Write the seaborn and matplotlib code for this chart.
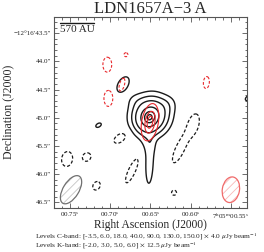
import numpy as np
import matplotlib
matplotlib.use("Agg")
import matplotlib.pyplot as plt
from matplotlib.patches import Ellipse
import seaborn as sns

# contour levels (multiples of rms) from the caption
levels_c = [-3.5, 6.0, 18.0, 40.0, 90.0, 130.0, 150.0]
rms_c = 4.0
levels_k = [-2.0, 3.0, 5.0, 6.0]
rms_k = 12.5

# C-band components: RA (s after 7h05m00s), Dec (" after -12d16'), peak (rms units),
# sigma major / minor (arcsec), angle of major axis (deg, on screen)
c_ra = [0.6524, 0.6500, 0.6512, 0.6524, 0.6305, 0.6680,
        0.6841, 0.7146, 0.5265, 0.6878, 0.7537, 0.7293,
        0.6732, 0.5963, 0.6134, 0.7171, 0.6207]
c_dec = [45.026, 44.960, 45.800, 45.440, 44.780, 44.700,
         44.410, 45.132, 44.639, 45.361, 45.731, 45.696,
         45.942, 45.114, 45.554, 46.206, 46.329]
c_amp = [50, 110, 13, 9, 8, 5,
         9.9, 9.9, 9.9, -5.8, -5.8, -5.8,
         -5.8, -5.8, -5.8, -5.8, -5.8]
c_smaj = [0.130, 0.182, 0.290, 0.140, 0.120, 0.110,
          0.150, 0.053, 0.088, 0.123, 0.132, 0.079,
          0.229, 0.176, 0.264, 0.079, 0.044]
c_smin = [0.115, 0.170, 0.052, 0.090, 0.100, 0.090,
          0.088, 0.032, 0.044, 0.070, 0.097, 0.070,
          0.062, 0.088, 0.079, 0.062, 0.044]
c_pa = [65, 60, 88, 95, 30, 0,
        58, 30, 30, 35, 80, 45,
        65, 75, 65, 60, 0]

# K-band components
k_ra = [0.6506, 0.7037, 0.6805, 0.7024, 0.5805, 0.6854]
k_dec = [45.079, 44.058, 43.882, 44.657, 44.375, 44.410]
k_amp = [6.5, -3.3, -3.3, -3.3, -3.3, -3.3]
k_smaj = [0.269, 0.132, 0.035, 0.141, 0.106, 0.114]
k_smin = [0.120, 0.079, 0.035, 0.079, 0.053, 0.044]
k_pa = [80, 90, 0, 90, 85, 75]

# synthesized beams (C-band, K-band)
beam_ra = [0.7488, 0.5500]
beam_dec = [46.276, 46.276]
beam_maj = [0.563, 0.458]
beam_min = [0.282, 0.308]
beam_pa = [58, 80]

x_ticks = [0.75, 0.70, 0.65, 0.60, 0.55]
y_ticks = [43.5, 44.0, 44.5, 45.0, 45.5, 46.0, 46.5]

SCALE = 14.44  # arcsec per RA second on the plot


def model(X, Y, ra, dec, amp, smaj, smin, pa):
    img = np.zeros_like(X)
    for r, d, a, s1, s2, p in zip(ra, dec, amp, smaj, smin, pa):
        t = np.deg2rad(p)
        dx = X - r * SCALE
        dy = Y - d
        u = dx * np.cos(t) + dy * np.sin(t)
        v = -dx * np.sin(t) + dy * np.cos(t)
        img += a * np.exp(-0.5 * ((u / s1) ** 2 + (v / s2) ** 2))
    return img


sns.set_style("ticks")
plt.rcParams["font.family"] = ["Liberation Serif", "DejaVu Serif"]
plt.rcParams["mathtext.fontset"] = "stix"
plt.rcParams["hatch.linewidth"] = 0.6

xs = np.linspace(0.52, 0.78, 500) * SCALE
ys = np.linspace(43.1, 46.7, 500)
X, Y = np.meshgrid(xs, ys)
img_c = model(X, Y, c_ra, c_dec, c_amp, c_smaj, c_smin, c_pa)
img_k = model(X, Y, k_ra, k_dec, k_amp, k_smaj, k_smin, k_pa)

fig = plt.figure(figsize=(2.64, 2.52), dpi=100)
ax = fig.add_axes([0.2045, 0.1746, 0.731, 0.758])

black = "#1a1a1a"
red = "#e8282c"
dash = [(0, (2.5, 1.6))]
neg_c = [l for l in levels_c if l < 0]
pos_c = [l for l in levels_c if l > 0]
neg_k = [l for l in levels_k if l < 0]
pos_k = [l for l in levels_k if l > 0]
ax.contour(X, Y, img_c, levels=neg_c, colors=black, linewidths=0.9, linestyles=dash)
ax.contour(X, Y, img_c, levels=pos_c, colors=black, linewidths=1.0, linestyles="solid")
ax.contour(X, Y, img_k, levels=neg_k, colors=red, linewidths=0.8, linestyles=dash)
ax.contour(X, Y, img_k, levels=pos_k, colors=red, linewidths=0.8, linestyles="solid")

# beams
beam_cols = [("#707070", "#c4c4c4"), ("#f06a6a", "#f8b8b8")]
for r, d, w, h, p, (ec, hc) in zip(beam_ra, beam_dec, beam_maj, beam_min, beam_pa, beam_cols):
    ax.add_patch(Ellipse((r * SCALE, d), w, h, angle=p, facecolor="none",
                         edgecolor=hc, hatch="////", lw=0))
    ax.add_patch(Ellipse((r * SCALE, d), w, h, angle=p, facecolor="none",
                         edgecolor=ec, lw=0.9))

ax.set_xlim(0.7695 * SCALE, 0.5341 * SCALE)
ax.set_ylim(46.576, 43.213)

xlabels = [f"00.{int(round(v * 100)):02d}$^{{\\rm s}}$" for v in x_ticks]
xlabels[-1] = "7$^{\\rm h}$05$^{\\rm m}$" + xlabels[-1]
ax.set_xticks([v * SCALE for v in x_ticks])
ax.set_xticklabels(xlabels)
ylabels = [f"{v:.1f}\u2033" for v in y_ticks]
ylabels[0] = "\u221212\u00b016\u2032" + ylabels[0]
ax.set_yticks(y_ticks)
ax.set_yticklabels(ylabels)
ax.set_xticks(np.arange(0.53, 0.775, 0.01) * SCALE, minor=True)
ax.set_yticks(np.arange(43.3, 46.6, 0.1), minor=True)

frame = "#555555"
ax.tick_params(which="both", direction="in", top=True, right=True, color=frame,
               width=0.6, labelsize=5, pad=2, labelcolor="#222222")
ax.tick_params(which="major", length=3.5)
ax.tick_params(which="minor", length=1.8)
for s in ax.spines.values():
    s.set_color(frame)
    s.set_linewidth(0.8)

ax.set_title("LDN1657A\u22123 A", fontsize=12, pad=2)

# scale bar
ax.plot([0.031, 0.207], [0.969, 0.969], transform=ax.transAxes, color=black, lw=1.0)
ax.text(0.119, 0.935, "570 AU", transform=ax.transAxes, ha="center", va="center", fontsize=8)

fig.text(0.57, 1 - 225 / 252, "Right Ascension (J2000)", ha="center", va="center", fontsize=8.3)
fig.text(8 / 264, 0.555, "Declination (J2000)", ha="center", va="center",
         rotation=90, fontsize=8.5)

txt_c = "Levels C-band: [" + ", ".join(f"{l:.1f}" for l in levels_c) + \
    f"] $\\times$ {rms_c:.1f} $\\mu$Jy beam$^{{-1}}$"
txt_k = "Levels K-band: [" + ", ".join(f"{l:.1f}" for l in levels_k) + \
    f"] $\\times$ {rms_k:.1f} $\\mu$Jy beam$^{{-1}}$"
fig.text(35 / 264, 1 - 236.5 / 252, txt_c, ha="left", va="center", fontsize=5.3)
fig.text(35 / 264, 1 - 246 / 252, txt_k, ha="left", va="center", fontsize=5.3)

fig.savefig("out.png", dpi=100)
